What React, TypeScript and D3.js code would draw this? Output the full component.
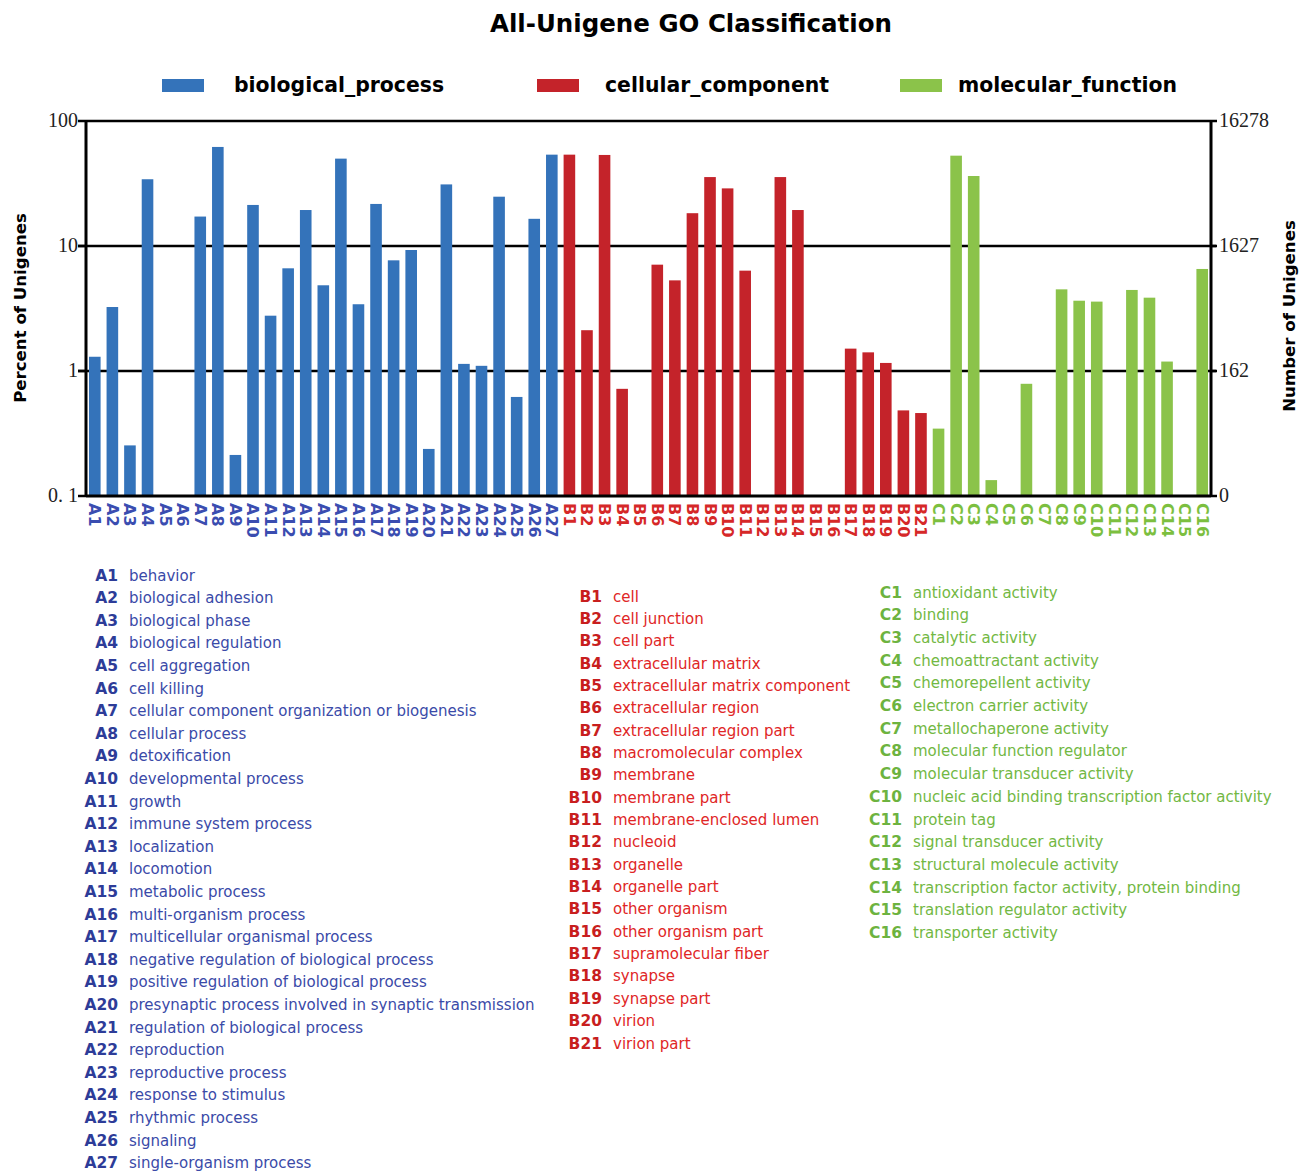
import React from 'react';
import * as d3 from 'd3';

// GO term names per ontology
const bpNames = [
  'behavior', 'biological adhesion', 'biological phase', 'biological regulation',
  'cell aggregation', 'cell killing', 'cellular component organization or biogenesis',
  'cellular process', 'detoxification', 'developmental process', 'growth',
  'immune system process', 'localization', 'locomotion', 'metabolic process',
  'multi-organism process', 'multicellular organismal process',
  'negative regulation of biological process', 'positive regulation of biological process',
  'presynaptic process involved in synaptic transmission', 'regulation of biological process',
  'reproduction', 'reproductive process', 'response to stimulus', 'rhythmic process',
  'signaling', 'single-organism process',
];
const ccNames = [
  'cell', 'cell junction', 'cell part', 'extracellular matrix',
  'extracellular matrix component', 'extracellular region', 'extracellular region part',
  'macromolecular complex', 'membrane', 'membrane part', 'membrane-enclosed lumen',
  'nucleoid', 'organelle', 'organelle part', 'other organism', 'other organism part',
  'supramolecular fiber', 'synapse', 'synapse part', 'virion', 'virion part',
];
const mfNames = [
  'antioxidant activity', 'binding', 'catalytic activity', 'chemoattractant activity',
  'chemorepellent activity', 'electron carrier activity', 'metallochaperone activity',
  'molecular function regulator', 'molecular transducer activity',
  'nucleic acid binding transcription factor activity', 'protein tag',
  'signal transducer activity', 'structural molecule activity',
  'transcription factor activity, protein binding', 'translation regulator activity',
  'transporter activity',
];

// percent of unigenes (0 = no bar)
const bpValues = [1.3, 3.25, 0.254, 34.2, 0, 0, 17.2, 62, 0.213, 21.3, 2.77, 6.63, 19.4, 4.85,
  50, 3.42, 21.7, 7.68, 9.29, 0.238, 31.1, 1.14, 1.1, 24.8, 0.62, 16.5, 53.8];
const ccValues = [53.8, 2.12, 53.5, 0.72, 0, 7.09, 5.31, 18.3, 35.6, 28.9, 6.35, 0, 35.6, 19.4,
  0, 0, 1.51, 1.41, 1.16, 0.484, 0.461];
const mfValues = [0.346, 52.8, 36.3, 0.134, 0, 0.79, 0, 4.5, 3.65, 3.59, 0, 4.45, 3.86, 1.19, 0, 6.55];

const leftTicks = [0.1, 1, 10, 100];
const leftTickLabels = ['0. 1', '1', '10', '100'];
const totalUnigenes = 16278;
const rightTickLabels = ['0', '162', '1627', '16278'];

const groups = [
  { key: 'biological_process', prefix: 'A', names: bpNames, values: bpValues,
    bar: '#3473BA', tick: '#3A4DB0', code: '#2D3C98', text: '#3A4AA8' },
  { key: 'cellular_component', prefix: 'B', names: ccNames, values: ccValues,
    bar: '#C4232A', tick: '#D62828', code: '#C81E1E', text: '#E02626' },
  { key: 'molecular_function', prefix: 'C', names: mfNames, values: mfValues,
    bar: '#8BC34A', tick: '#7CBF3F', code: '#6DB33F', text: '#72B843' },
];

const W = 1299;
const H = 1171;
const left = 86, right = 1211, top = 121, bottom = 496;
const sans = '"DejaVu Sans", Verdana, sans-serif';
const serif = '"Liberation Serif", "Times New Roman", serif';

const bars = groups.flatMap((g) =>
  g.values.map((v, i) => ({ code: `${g.prefix}${i + 1}`, value: v, group: g }))
);

const legendCols = [
  { codeX: 118, textX: 129, y0: 575, dy: 22.6 },
  { codeX: 602, textX: 613, y0: 596, dy: 22.35 },
  { codeX: 902, textX: 913, y0: 592, dy: 22.7 },
];
const keyPos = [
  { rx: 162, tx: 234 },
  { rx: 537, tx: 605 },
  { rx: 900, tx: 958 },
];

export default function App() {
  const x = d3.scaleBand<string>()
    .domain(bars.map((b) => b.code))
    .range([left, right])
    .paddingInner(0.34)
    .paddingOuter(0.17);
  const y = d3.scaleLog().domain([0.1, 100]).range([bottom, top]);
  const yRight = d3.scaleLog()
    .domain([totalUnigenes / 1000, totalUnigenes])
    .range([bottom, top]);
  const rightTicks = leftTicks.map((t) => (t / 100) * totalUnigenes);

  return (
    <div style={{ position: 'absolute', left: 0, top: 0 }}>
      <svg width={W} height={H} style={{ display: 'block', background: '#fff' }}>
        <text x={691} y={32} textAnchor="middle" fontFamily={sans} fontWeight="bold" fontSize={24.5}>
          All-Unigene GO Classification
        </text>

        {groups.map((g, i) => (
          <g key={g.key}>
            <rect x={keyPos[i].rx} y={79} width={42} height={13} fill={g.bar} />
            <text x={keyPos[i].tx} y={92} fontFamily={sans} fontWeight="bold" fontSize={20.4}>
              {g.key}
            </text>
          </g>
        ))}

        {/* grid lines at 1 and 10 */}
        {[1, 10].map((t) => (
          <line key={t} x1={left - 8} x2={right + 5} y1={y(t)} y2={y(t)} stroke="#000" strokeWidth={2.5} />
        ))}

        {bars.filter((b) => b.value > 0).map((b) => (
          <rect key={b.code} x={x(b.code)} y={y(b.value)} width={x.bandwidth()}
            height={bottom - y(b.value)} fill={b.group.bar} />
        ))}

        {/* frame */}
        <line x1={left} x2={right} y1={top} y2={top} stroke="#000" strokeWidth={2.5} />
        <line x1={left} x2={right} y1={bottom} y2={bottom} stroke="#000" strokeWidth={3} />
        <line x1={left} x2={left} y1={top - 1} y2={bottom + 1} stroke="#000" strokeWidth={3} />
        <line x1={right} x2={right} y1={top - 1} y2={bottom + 1} stroke="#000" strokeWidth={3} />

        {leftTicks.map((t, i) => (
          <g key={t}>
            <line x1={left - 8} x2={left} y1={y(t)} y2={y(t)} stroke="#000" strokeWidth={2.5} />
            <text x={78} y={y(t) + 6} textAnchor="end" fontFamily={serif} fontSize={20} fill="#222">
              {leftTickLabels[i]}
            </text>
          </g>
        ))}
        {rightTicks.map((t, i) => (
          <g key={t}>
            <line x1={right} x2={right + 6} y1={yRight(t)} y2={yRight(t)} stroke="#000" strokeWidth={2.5} />
            <text x={1219} y={yRight(t) + 6} fontFamily={serif} fontSize={20} fill="#222">
              {rightTickLabels[i]}
            </text>
          </g>
        ))}

        <text transform="translate(26,308) rotate(-90)" textAnchor="middle" fontFamily={sans}
          fontWeight="bold" fontSize={16.6}>
          Percent of Unigenes
        </text>
        <text transform="translate(1295,316) rotate(-90)" textAnchor="middle" fontFamily={sans}
          fontWeight="bold" fontSize={16.6}>
          Number of Unigenes
        </text>

        {bars.map((b) => (
          <text key={b.code}
            transform={`translate(${(x(b.code) ?? 0) + x.bandwidth() / 2},503) rotate(90)`}
            dominantBaseline="central" fontFamily={sans} fontWeight="bold" fontSize={16}
            fill={b.group.tick}>
            {b.code}
          </text>
        ))}

        {groups.map((g, gi) => (
          <g key={g.key}>
            {g.names.map((n, i) => {
              const c = legendCols[gi];
              const yy = c.y0 + i * c.dy + 5.5;
              return (
                <g key={n}>
                  <text x={c.codeX} y={yy} textAnchor="end" fontFamily={sans} fontWeight="bold"
                    fontSize={15.5} fill={g.code}>
                    {`${g.prefix}${i + 1}`}
                  </text>
                  <text x={c.textX} y={yy} fontFamily={sans} fontSize={15} fill={g.text}>
                    {n}
                  </text>
                </g>
              );
            })}
          </g>
        ))}
      </svg>
    </div>
  );
}
